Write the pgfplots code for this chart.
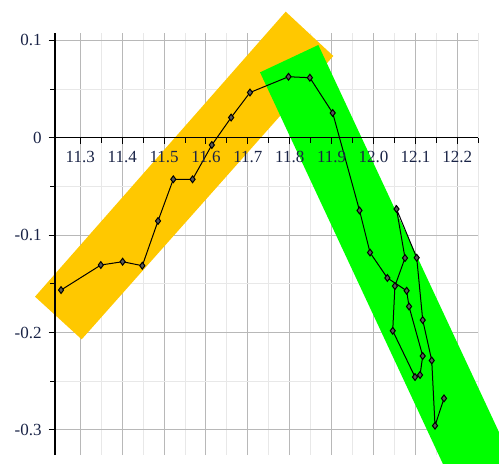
\documentclass[border=0pt]{standalone}
\usepackage{pgfplots}
\pgfplotsset{compat=1.18}
\usepackage{fontspec}
\setmainfont{Liberation Serif}
\definecolor{bandorange}{RGB}{255,200,0}
\definecolor{bandgreen}{RGB}{0,255,0}
\definecolor{ticklab}{RGB}{25,35,70}
\pgfplotsset{layers/gridbelow/.define layer set={axis background,axis grid,pre main,main,axis ticks,axis lines,axis tick labels,axis descriptions,axis foreground}{
  grid style={/pgfplots/on layer=axis grid},
  tick style={/pgfplots/on layer=axis ticks},
  axis line style={/pgfplots/on layer=axis lines},
  label style={/pgfplots/on layer=axis descriptions},
  legend style={/pgfplots/on layer=axis descriptions},
  title style={/pgfplots/on layer=axis descriptions},
  ticklabel style={/pgfplots/on layer=axis tick labels},
  axis background@ style={/pgfplots/on layer=axis background},
}}
\begin{document}
\begin{tikzpicture}
\begin{axis}[
  set layers=gridbelow,
  x=209.45pt, y=487pt,
  xmin=11.2396, xmax=12.25, ymin=-0.3258, ymax=0.1075,
  axis x line=middle, axis y line=left,
  axis line style={-, black, line width=0.7pt},
  clip=false,
  xtick={11.3,11.4,11.5,11.6,11.7,11.8,11.9,12.0,12.1,12.2},
  xticklabels={11.3,11.4,11.5,11.6,11.7,11.8,11.9,12.0,12.1,12.2},
  minor xtick={11.35,11.45,11.55,11.65,11.75,11.85,11.95,12.05,12.15,12.25},
  ytick={-0.3,-0.2,-0.1,0,0.1},
  yticklabels={-0.3,-0.2,-0.1,0,0.1},
  minor ytick={-0.25,-0.15,-0.05,0.05},
  grid=both,
  major grid style={color=black!28, line width=0.5pt},
  minor grid style={color=black!9, line width=0.5pt},
  tick align=outside,
  major tick length=3.2pt, minor tick length=2.4pt,
  tick style={black, line width=0.5pt},
  ticklabel style={font=\fontsize{8.5}{10}\selectfont, text=ticklab},
]
\addplot[fill=bandorange, draw=none, forget plot] coordinates {(11.1919,-0.1632) (11.3033,-0.2070) (11.904,0.0839) (11.7903,0.1294)} -- cycle;
\addplot[fill=bandgreen, draw=none, forget plot] coordinates {(11.729,0.0671) (11.8682,0.0952) (12.442,-0.4336) (12.2728,-0.4336)} -- cycle;
\addplot[black, line width=0.5pt, mark=diamond*, mark size=1.7pt, mark options={fill=black!65, draw=black}] coordinates {
(11.254,-0.1564) (11.349,-0.1307) (11.401,-0.1273) (11.448,-0.1314) (11.4855,-0.0855)
(11.522,-0.0427) (11.568,-0.0427) (11.614,-0.0075) (11.660,0.0207) (11.705,0.0464)
(11.797,0.0626) (11.848,0.0616) (11.9025,0.0254) (11.9665,-0.0747) (11.9916,-0.1179)
(12.033,-0.1440) (12.079,-0.1571) (12.0847,-0.1733) (12.1174,-0.2241) (12.111,-0.2436)
(12.099,-0.2457) (12.0458,-0.1982) (12.051,-0.1523) (12.0751,-0.1235) (12.0548,-0.0732)
(12.103,-0.1232) (12.1174,-0.1872) (12.1389,-0.2287) (12.1467,-0.2957) (12.1682,-0.2676)
};
\coordinate (picbl) at (axis cs:11.1083,-0.33398);
\coordinate (pictr) at (axis cs:12.2995,0.14138);
\end{axis}
\pgfresetboundingbox
\useasboundingbox (picbl) rectangle (pictr);
\end{tikzpicture}
\end{document}
